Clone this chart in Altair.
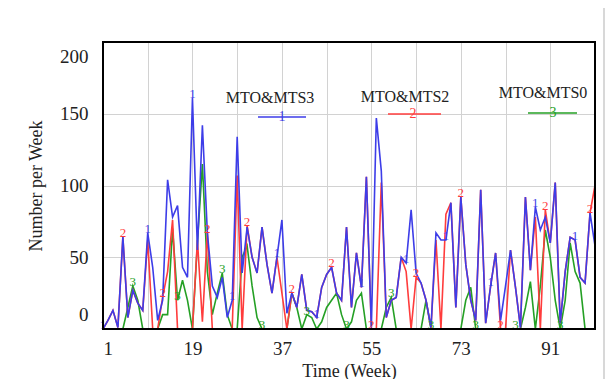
import altair as alt
import pandas as pd

weeks = list(range(1, 101))

mts3 = [0, 6, 13, 1, 64, 8, 27, 18, 13, 67,
        43, 6, 20, 104, 78, 86, 43, 36, 161, 55,
        142, 67, 30, 22, 36, 8, 20, 134, 39, 71,
        50, 39, 71, 45, 25, 50, 76, 11, 25, 15,
        38, 13, 12, 8, 29, 38, 43, 25, 20, 71,
        15, 53, 29, 106, 1, 147, 110, 8, 20, 22,
        50, 46, 83, 39, 32, 20, 1, 67, 62, 62,
        88, 15, 92, 45, 20, 6, 97, 4, 30, 53,
        6, 30, 55, 29, 1, 92, 41, 85, 69, 78,
        60, 102, 4, 40, 64, 62, 36, 32, 81, 58]

mts2 = [0, 6, 13, 1, 64, 8, 27, 18, 13, 62,
        0, 0, 22, 40, 76, 0, 0, 0, 0, 62,
        5, 67, 0, 0, 0, 0, 0, 107, 0, 72,
        50, 39, 71, 45, 25, 50, 25, 0, 25, 15,
        38, 13, 12, 8, 29, 38, 43, 25, 20, 71,
        15, 53, 29, 106, 0, 0, 102, 8, 20, 22,
        50, 40, 0, 36, 32, 20, 1, 62, 0, 80,
        88, 15, 92, 45, 20, 6, 97, 4, 30, 53,
        0, 0, 55, 29, 1, 92, 41, 78, 0, 83,
        60, 102, 4, 40, 64, 62, 36, 32, 81, 100]

mts0 = [0, 0, 0, 0, 0, 15, 30, 20, 0, 0,
        0, 0, 10, 10, 70, 20, 34, 20, 0, 60,
        115, 40, 10, 25, 39, 10, 0, 0, 50, 58,
        30, 8, 0, 0, 0, 0, 0, 0, 25, 15,
        0, 10, 8, 0, 5, 15, 20, 25, 10, 0,
        5, 20, 25, 0, 0, 0, 0, 15, 22, 0,
        0, 0, 0, 0, 0, 20, 0, 0, 0, 0,
        0, 0, 0, 20, 29, 0, 0, 0, 0, 0,
        0, 0, 0, 0, 0, 15, 33, 0, 30, 69,
        50, 20, 0, 20, 60, 40, 32, 0, 0, 0]

series_names = ["MTO&MTS3", "MTO&MTS2", "MTO&MTS0"]
series_tags = ["1", "2", "3"]
colors = ["#3d3de8", "#ff3c3c", "#25a025"]

marker_weeks_1 = [1, 10, 19, 27, 36, 44, 53, 62, 70, 79, 88, 96]
marker_weeks_2 = [5, 13, 22, 30, 39, 47, 55, 64, 73, 81, 90, 99]
marker_weeks_3 = [7, 16, 25, 33, 42, 50, 59, 67, 76, 84, 93]

x_grid = [1, 10, 19, 28, 37, 46, 55, 64, 73, 82, 91, 100]
x_labels = [1, 19, 37, 55, 73, 91]
y_ticks = [0, 50, 100, 150, 200]

W, H = 492, 287
FONT = "Liberation Serif"

xs = alt.Scale(domain=[1, 100], nice=False, zero=False)
ys = alt.Scale(domain=[0, 200], nice=False)

label_list = ",".join(str(v) for v in x_labels)
xaxis = alt.Axis(values=x_grid, title="Time (Week)", grid=True, gridColor="#d2d2d2",
                 gridWidth=1, ticks=False, domain=False,
                 labelExpr=f"indexof([{label_list}], datum.value) >= 0 ? datum.label : ''",
                 labelFont=FONT, labelFontSize=19, labelColor="#222222", labelPadding=10,
                 titleFont=FONT, titleFontSize=18, titleFontWeight="normal",
                 titleColor="#222222", titlePadding=4)
yaxis = alt.Axis(values=y_ticks, title="Number per Week", grid=True, gridColor="#d2d2d2",
                 gridWidth=1, ticks=False, domain=False, labelFlush=True,
                 labelFlushOffset=-5,
                 labelFont=FONT, labelFontSize=19, labelColor="#222222", labelPadding=15,
                 titleFont=FONT, titleFontSize=18, titleFontWeight="normal",
                 titleColor="#222222", titlePadding=14)


def line_layer(vals, color):
    df = pd.DataFrame({"week": weeks, "value": vals})
    return alt.Chart(df).mark_line(color=color, strokeWidth=1.6, clip=True).encode(
        x=alt.X("week:Q", scale=xs, axis=xaxis),
        y=alt.Y("value:Q", scale=ys, axis=yaxis),
    )


def marker_layer(vals, mweeks, tag, color):
    df = pd.DataFrame({"week": mweeks, "value": [vals[w - 1] for w in mweeks]})
    return alt.Chart(df).mark_text(text=tag, color=color, font=FONT, fontSize=13,
                                   baseline="middle", dy=-4).encode(
        x=alt.X("week:Q", scale=xs, axis=xaxis),
        y=alt.Y("value:Q", scale=ys, axis=yaxis),
    )


layers = [
    line_layer(mts0, colors[2]),
    line_layer(mts2, colors[1]),
    line_layer(mts3, colors[0]),
    marker_layer(mts0, marker_weeks_3, series_tags[2], colors[2]),
    marker_layer(mts2, marker_weeks_2, series_tags[1], colors[1]),
    marker_layer(mts3, marker_weeks_1, series_tags[0], colors[0]),
]

# plot frame (drawn over the lines)
frame = alt.Chart(pd.DataFrame({"a": [0]})).mark_rect(
    fill=None, stroke="black", strokeWidth=2).encode(
    x=alt.value(0), x2=alt.value(W), y=alt.value(0), y2=alt.value(H))

# outer light frame
outer = alt.Chart(pd.DataFrame({"a": [0]})).mark_rect(
    fill=None, stroke="#cccccc", strokeWidth=1.5, clip=False).encode(
    x=alt.value(-97), x2=alt.value(501), y=alt.value(-37), y2=alt.value(370))

# inline legend
leg_text_x = [167, 302, 440]
leg_text_y = [56, 55, 51]
leg_line_x1 = [155, 285, 425]
leg_line_x2 = [203, 338, 474]
leg_line_y = [75, 72, 71]
leg_tag_x = [179, 310, 450]

legend_layers = []
for i in range(3):
    one = pd.DataFrame({"a": [0]})
    legend_layers.append(alt.Chart(one).mark_text(
        text=series_names[i], font=FONT, fontSize=16, color="#222222",
        align="center", baseline="middle").encode(
        x=alt.value(leg_text_x[i]), y=alt.value(leg_text_y[i])))
    legend_layers.append(alt.Chart(one).mark_rule(color=colors[i], strokeWidth=1.5).encode(
        x=alt.value(leg_line_x1[i]), x2=alt.value(leg_line_x2[i]), y=alt.value(leg_line_y[i])))
    legend_layers.append(alt.Chart(one).mark_text(
        text=series_tags[i], font=FONT, fontSize=14, color=colors[i],
        align="center", baseline="middle").encode(
        x=alt.value(leg_tag_x[i]), y=alt.value(leg_line_y[i])))

chart = alt.layer(outer, *layers, frame, *legend_layers).properties(
    width=W, height=H,
    autosize=alt.AutoSizeParams(type="none"),
    padding={"left": 95, "top": 34, "right": 10, "bottom": 50},
).configure_view(stroke=None).configure(background="white")

chart.save("out.html", embed_options={"renderer": "svg", "actions": False})
